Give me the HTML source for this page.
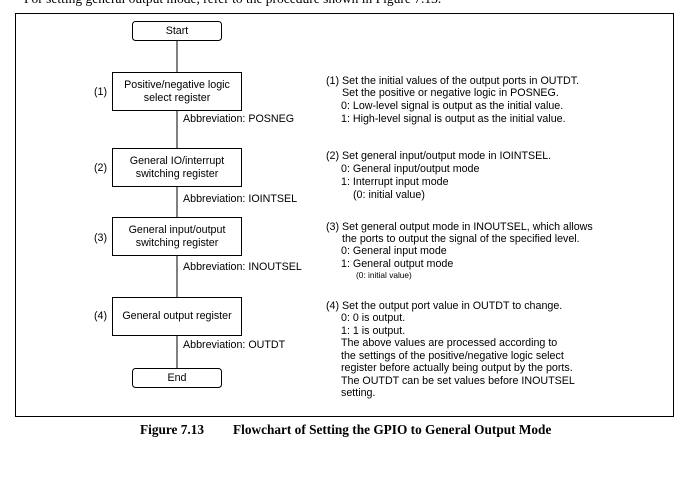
<!DOCTYPE html>
<html><head><meta charset="utf-8"><style>
html,body{margin:0;padding:0;background:#fff;}
svg{display:block;}
.s{font-family:"Liberation Sans",Arial,sans-serif;font-size:10.7px;fill:#000;}
.b{font-family:"Liberation Serif","Times New Roman",serif;font-size:13.3px;font-weight:bold;fill:#000;}
</style></head><body>
<svg width="688" height="497" viewBox="0 0 688 497" xmlns="http://www.w3.org/2000/svg">
<text x="24" y="3" style="font-family:'Liberation Serif',serif;font-size:13.5px;">For setting general output mode, refer to the procedure shown in Figure 7.13.</text>
<rect x="15.5" y="13.5" width="658" height="403" fill="none" stroke="#000" stroke-width="1"/>
<g stroke="#000" stroke-width="1" fill="none">
<line x1="177" y1="40" x2="177" y2="368"/>
</g>
<g stroke="#000" stroke-width="1" fill="#fff">
<rect x="132.5" y="21.5" width="89" height="19" rx="3"/>
<rect x="112.5" y="72.5" width="129" height="38"/>
<rect x="112.5" y="148.5" width="129" height="38"/>
<rect x="112.5" y="217.5" width="129" height="38"/>
<rect x="112.5" y="297.5" width="129" height="38"/>
<rect x="132.5" y="368.5" width="89" height="19" rx="3"/>
</g>
<g class="s" text-anchor="middle" dominant-baseline="middle">
<text x="177" y="31">Start</text>
<text x="177" y="85">Positive/negative logic</text>
<text x="177" y="98">select register</text>
<text x="177" y="161">General IO/interrupt</text>
<text x="177" y="174">switching register</text>
<text x="177" y="230">General input/output</text>
<text x="177" y="243">switching register</text>
<text x="177" y="316">General output register</text>
<text x="177" y="378">End</text>
</g>
<g class="s" dominant-baseline="middle">
<text x="94" y="92">(1)</text>
<text x="94" y="168">(2)</text>
<text x="94" y="238">(3)</text>
<text x="94" y="316">(4)</text>
<text x="183" y="119">Abbreviation: POSNEG</text>
<text x="183" y="199">Abbreviation: IOINTSEL</text>
<text x="183" y="267">Abbreviation: INOUTSEL</text>
<text x="183" y="345">Abbreviation: OUTDT</text>

<text x="326" y="81">(1) Set the initial values of the output ports in OUTDT.</text>
<text x="342" y="93">Set the positive or negative logic in POSNEG.</text>
<text x="341" y="106">0: Low-level signal is output as the initial value.</text>
<text x="341" y="119">1: High-level signal is output as the initial value.</text>

<text x="326" y="156">(2) Set general input/output mode in IOINTSEL.</text>
<text x="341" y="169">0: General input/output mode</text>
<text x="341" y="182">1: Interrupt input mode</text>
<text x="353" y="195">(0: initial value)</text>

<text x="326" y="227">(3) Set general output mode in INOUTSEL, which allows</text>
<text x="342" y="239">the ports to output the signal of the specified level.</text>
<text x="341" y="251">0: General input mode</text>
<text x="341" y="264">1: General output mode</text>
<text x="356" y="276" style="font-size:8.3px">(0: initial value)</text>

<text x="326" y="306">(4) Set the output port value in OUTDT to change.</text>
<text x="341" y="318">0: 0 is output.</text>
<text x="341" y="331">1: 1 is output.</text>
<text x="341" y="343">The above values are processed according to</text>
<text x="341" y="356">the settings of the positive/negative logic select</text>
<text x="341" y="368">register before actually being output by the ports.</text>
<text x="341" y="381">The OUTDT can be set values before INOUTSEL</text>
<text x="341" y="393">setting.</text>
</g>
<text class="b" x="140" y="434">Figure 7.13</text>
<text class="b" x="233" y="434">Flowchart of Setting the GPIO to General Output Mode</text>
</svg>
</body></html>
